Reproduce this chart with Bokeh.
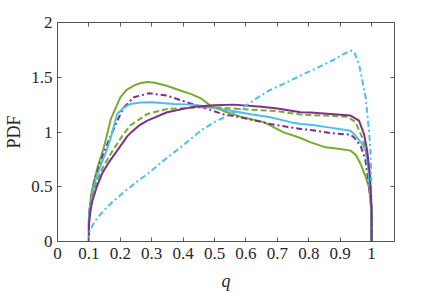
from bokeh.plotting import figure
from bokeh.models import Range1d, FixedTicker, LinearAxis, CustomJSTickFormatter
from bokeh.embed import file_html
from bokeh.resources import INLINE

# ---- data ----
gs_q = [0.1, 0.1, 0.103, 0.107, 0.116, 0.13, 0.145, 0.153, 0.17, 0.2, 0.22, 0.243, 0.265, 0.286,
        0.31, 0.35, 0.4, 0.424, 0.455, 0.487, 0.53, 0.583, 0.62, 0.657, 0.72, 0.774, 0.806, 0.854,
        0.9, 0.933, 0.95, 0.965, 0.98, 0.992, 0.997, 1.0, 1.0]
gs_y = [0.0, 0.2, 0.32, 0.42, 0.55, 0.7, 0.836, 0.92, 1.12, 1.317, 1.385, 1.424, 1.448, 1.456,
        1.45, 1.42, 1.37, 1.348, 1.31, 1.241, 1.19, 1.14, 1.115, 1.09, 0.997, 0.945, 0.905, 0.86,
        0.845, 0.83, 0.79, 0.708, 0.6, 0.494, 0.345, 0.2, 0.0]

pdd_q = [0.1, 0.1, 0.103, 0.108, 0.118, 0.133, 0.15, 0.17, 0.19, 0.211, 0.243, 0.29, 0.349,
         0.424, 0.455, 0.487, 0.53, 0.583, 0.678, 0.742, 0.774, 0.806, 0.869, 0.933, 0.944,
         0.965, 0.98, 0.99, 1.0, 1.0]
pdd_y = [0.0, 0.2, 0.32, 0.42, 0.55, 0.7, 0.83, 0.97, 1.1, 1.225, 1.317, 1.353, 1.332,
         1.26, 1.235, 1.2, 1.16, 1.134, 1.073, 1.043, 1.028, 1.019, 0.99, 0.975, 0.95,
         0.875, 0.75, 0.55, 0.3, 0.0]

bs_q = [0.1, 0.1, 0.103, 0.108, 0.12, 0.138, 0.156, 0.167, 0.19, 0.21, 0.232, 0.265, 0.3, 0.37,
        0.424, 0.455, 0.5, 0.561, 0.62, 0.678, 0.742, 0.774, 0.806, 0.869, 0.933, 0.949, 0.97,
        0.981, 0.99, 0.997, 1.0, 1.0]
bs_y = [0.0, 0.2, 0.3, 0.4, 0.55, 0.7, 0.83, 0.92, 1.165, 1.22, 1.256, 1.27, 1.271, 1.256,
        1.25, 1.24, 1.22, 1.19, 1.16, 1.134, 1.09, 1.074, 1.067, 1.04, 1.012, 0.967, 0.89,
        0.83, 0.65, 0.4, 0.2, 0.0]

gd_q = [0.1, 0.1, 0.104, 0.11, 0.125, 0.145, 0.165, 0.18, 0.21, 0.232, 0.286, 0.349, 0.455,
        0.5, 0.583, 0.7, 0.774, 0.806, 0.923, 0.949, 0.97, 0.985, 0.995, 1.0, 1.0]
gd_y = [0.0, 0.18, 0.3, 0.4, 0.55, 0.68, 0.78, 0.85, 0.98, 1.06, 1.165, 1.21, 1.225,
        1.225, 1.21, 1.19, 1.159, 1.155, 1.14, 1.09, 0.95, 0.8, 0.6, 0.3, 0.0]

ps_q = [0.1, 0.1, 0.104, 0.11, 0.125, 0.142, 0.165, 0.19, 0.222, 0.232, 0.26, 0.286, 0.349, 0.424,
        0.455, 0.5, 0.561, 0.65, 0.7, 0.774, 0.806, 0.933, 0.96, 0.976, 0.986, 0.995, 1.0, 1.0]
ps_y = [0.0, 0.15, 0.26, 0.36, 0.5, 0.62, 0.73, 0.83, 0.96, 0.99, 1.06, 1.104, 1.18, 1.225,
        1.235, 1.245, 1.25, 1.23, 1.215, 1.18, 1.178, 1.15, 1.104, 0.98, 0.83, 0.6, 0.3, 0.0]

bdd_q = [0.1, 0.101, 0.105, 0.12, 0.14, 0.16, 0.179, 0.22, 0.25, 0.286, 0.33, 0.36, 0.392,
         0.424, 0.46, 0.5, 0.549, 0.6, 0.63, 0.673, 0.72, 0.774, 0.83, 0.88, 0.91, 0.933,
         0.945, 0.96, 0.972, 0.981, 0.992, 0.997, 0.999]
bdd_y = [0.0, 0.08, 0.113, 0.19, 0.26, 0.32, 0.372, 0.47, 0.54, 0.616, 0.72, 0.79, 0.86,
         0.936, 1.02, 1.09, 1.159, 1.24, 1.3, 1.378, 1.44, 1.515, 1.59, 1.66, 1.71, 1.744,
         1.73, 1.62, 1.45, 1.317, 1.01, 0.8, 0.55]

x_ticks = [0, 0.1, 0.2, 0.3, 0.4, 0.5, 0.6, 0.7, 0.8, 0.9, 1]
x_tick_labels = ["0", "0.1", "0.2", "0.3", "0.4", "0.5", "0.6", "0.7", "0.8", "0.9", "1"]
y_ticks = [0, 0.5, 1, 1.5, 2]
y_tick_labels = ["0", "0.5", "1", "1.5", "2"]
x_label = "q"
y_label = "PDF"

GREEN = "#77AC30"
PURPLE = "#7E2F8E"
BLUE = "#4DBEEE"
FONT = "Liberation Serif"
AXC = "#555555"
TXC = "#262626"

p = figure(width=436, height=293, output_backend="svg", toolbar_location=None,
           x_range=Range1d(0, 1.073), y_range=Range1d(0, 2),
           min_border_left=57, min_border_right=42, min_border_top=22, min_border_bottom=52)
p.outline_line_color = None
p.xgrid.visible = False
p.ygrid.visible = False
p.background_fill_color = "white"
p.border_fill_color = "white"

FMT_CODE = """
const i = tv.findIndex(t => Math.abs(t - tick) < 1e-9);
return i >= 0 ? tl[i] : '';
"""

def style_axis(ax, ticks, labels, show_labels):
    ax.ticker = FixedTicker(ticks=ticks)
    ax.formatter = CustomJSTickFormatter(args=dict(tv=ticks, tl=labels), code=FMT_CODE)
    ax.axis_line_color = AXC
    ax.axis_line_width = 1
    ax.major_tick_line_color = AXC
    ax.major_tick_in = 4
    ax.major_tick_out = 0
    ax.minor_tick_line_color = None
    ax.major_label_text_font = FONT
    ax.major_label_text_font_size = "17px"
    ax.major_label_text_font_style = "normal"
    ax.major_label_text_color = TXC if show_labels else None
    ax.major_label_standoff = 6
    ax.axis_label_text_font = FONT
    ax.axis_label_text_font_size = "18px"
    ax.axis_label_text_color = TXC

style_axis(p.xaxis[0], x_ticks, x_tick_labels, True)
style_axis(p.yaxis[0], y_ticks, y_tick_labels, True)
p.xaxis[0].axis_label = x_label
p.xaxis[0].axis_label_text_font_style = "italic"
p.xaxis[0].axis_label_standoff = 9
p.yaxis[0].axis_label = y_label
p.yaxis[0].axis_label_text_font_style = "normal"
p.yaxis[0].axis_label_standoff = 4
p.yaxis[0].major_label_standoff = 5

top = LinearAxis()
right = LinearAxis()
style_axis(top, x_ticks, x_tick_labels, False)
style_axis(right, y_ticks, y_tick_labels, False)
top.major_label_text_font_size = "0px"
right.major_label_text_font_size = "0px"
p.add_layout(top, "above")
p.add_layout(right, "right")

lw = 2
p.line(gs_q, gs_y, line_color=GREEN, line_width=lw)
p.line(pdd_q, pdd_y, line_color=PURPLE, line_width=lw, line_dash="6 3 2 3")
p.line(bs_q, bs_y, line_color=BLUE, line_width=lw)
p.line(gd_q, gd_y, line_color=GREEN, line_width=lw, line_dash="6 3")
p.line(ps_q, ps_y, line_color=PURPLE, line_width=lw)
p.line(bdd_q, bdd_y, line_color=BLUE, line_width=lw, line_dash="6 3 2 3")

open("out.html", "w").write(file_html(p, INLINE))
